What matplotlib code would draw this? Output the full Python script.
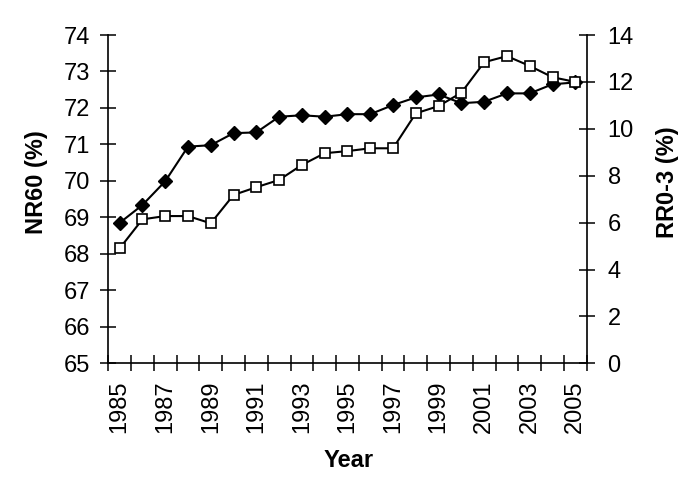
import numpy as np
import matplotlib
matplotlib.use('Agg')
import matplotlib.pyplot as plt

plt.rcParams['font.family'] = ['Liberation Sans', 'DejaVu Sans']

years = list(range(1985, 2006))
# NR60 (%), left axis, filled diamonds
nr60 = [68.85, 69.34, 69.99, 70.94, 70.98, 71.31, 71.33, 71.76, 71.80, 71.76, 71.83,
        71.83, 72.08, 72.29, 72.37, 72.13, 72.17, 72.40, 72.40, 72.65, 72.70]
# RR0-3 (%), right axis, open squares
rr03 = [4.90, 6.14, 6.28, 6.28, 5.97, 7.18, 7.51, 7.82, 8.46, 8.96, 9.05,
        9.17, 9.17, 10.66, 10.97, 11.54, 12.84, 13.10, 12.68, 12.20, 12.00]
label_years = list(range(1985, 2006, 2))

fs = 17

fig = plt.figure(figsize=(6.85, 4.91), dpi=100)
ax = fig.add_axes([0.158, 0.26, 0.6985, 0.6687])
ax2 = ax.twinx()

ax.plot(years, nr60, color='black', lw=1.5, marker='D', ms=7,
        mfc='black', mec='black', zorder=3)
ax2.plot(years, rr03, color='black', lw=1.5, marker='s', ms=7.4,
         mfc='white', mec='black', mew=1.2, zorder=2)

ax.set_xlim(1984.5, 2005.5)
ax.set_ylim(65, 74)
ax2.set_ylim(0, 14)

# category style x axis: ticks between years, labels on odd years
ax.set_xticks(np.arange(1984.5, 2006, 1.0))
ax.set_xticklabels([])
ax.set_xticks(label_years, minor=True)
ax.set_xticklabels([str(y) for y in label_years], minor=True, rotation=90, fontsize=fs)
ax.tick_params(axis='x', which='major', direction='inout', length=11, width=1.1)
ax.tick_params(axis='x', which='minor', length=0, pad=12)

ax.set_yticks(range(65, 75))
ax.tick_params(axis='y', direction='inout', length=11, width=1.1, labelsize=fs, pad=7.5)
ax2.set_yticks(range(0, 15, 2))
ax2.tick_params(axis='y', direction='inout', length=11, width=1.1, labelsize=fs, pad=9.5)

for a in (ax, ax2):
    a.spines['top'].set_visible(False)
    for s in a.spines.values():
        s.set_linewidth(1.2)
ax.spines['right'].set_visible(False)
ax2.spines['left'].set_visible(False)
ax2.spines['bottom'].set_visible(False)

ax.set_ylabel('NR60 (%)', fontsize=fs, fontweight='bold')
ax.yaxis.set_label_coords(-0.150, 0.553)
ax.yaxis.label.set_verticalalignment('center')
ax2.set_ylabel('RR0-3 (%)', fontsize=fs, fontweight='bold', rotation=90)
ax2.yaxis.set_label_coords(1.169, 0.551)
ax2.yaxis.label.set_verticalalignment('center')
ax.set_xlabel('Year', fontsize=fs, fontweight='bold')
ax.xaxis.set_label_coords(0.503, -0.295)
ax.xaxis.label.set_verticalalignment('center')

fig.savefig('out.png', dpi=100)
